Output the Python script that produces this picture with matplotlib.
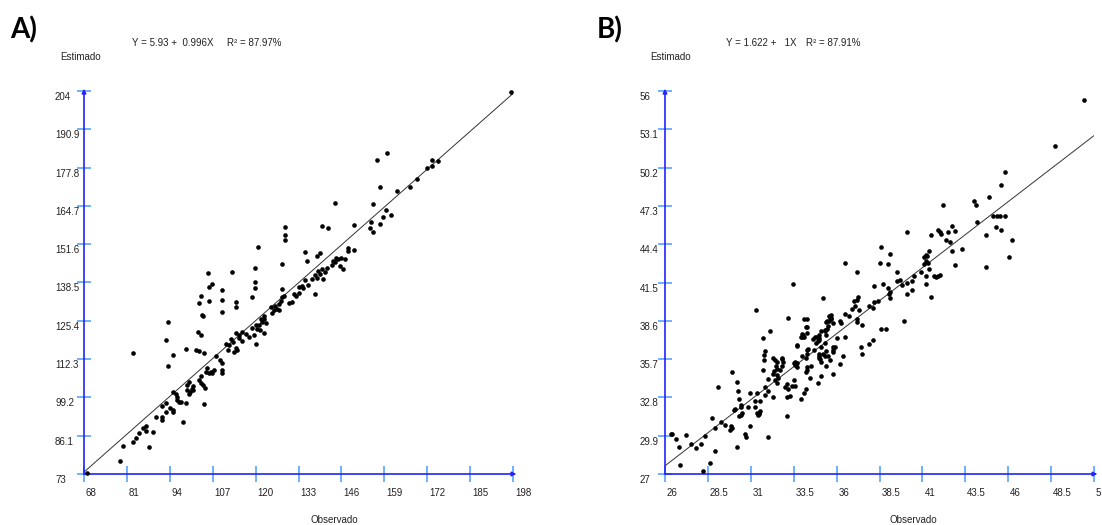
# two observed vs estimated scatter panels with the fitted line,
# drawn in the look of the old stats program (blue arrow axes)

import matplotlib
matplotlib.use("Agg")
import matplotlib.pyplot as plt
from matplotlib.transforms import offset_copy

FIG_W_PX = 1102
FIG_H_PX = 525
DPI = 100

AXIS_BLUE = '#2222ff'
TICK_BLUE = '#4a9bff'
TEXT_FONT = ['Liberation Sans', 'DejaVu Sans']

# ---- panel A data ----
A_OBS = [68.8, 78.9, 79.9, 82.7, 82.7, 83.8, 84.8, 85.8, 86.8, 86.8, 87.8, 88.8,
         89.8, 91.5, 91.5, 91.5, 92.8, 92.8, 92.8, 93.6, 93.6, 94.0, 94.9, 94.9,
         94.9, 94.9, 95.9, 96.3, 96.3, 96.8, 97.3, 97.9, 98.9, 98.9, 99.2, 99.2,
         99.8, 99.8, 100.2, 100.6, 101.1, 101.1, 102.0, 102.9, 102.6, 103.6, 102.7,
         103.6, 103.9, 104.2, 104.4, 104.4, 105.7, 106.0, 106.0, 106.8, 102.7, 103.6,
         103.6, 104.2, 104.6, 104.9, 105.4, 105.9, 106.4, 106.9, 107.4, 108.0, 109.2,
         109.8, 109.8, 109.8, 109.8, 109.8, 109.8, 111.0, 111.5, 112.0, 112.5, 113.0,
         113.5, 114.0, 114.5, 115.0, 115.0, 116.0, 112.7, 114.2, 114.2, 114.2, 116.0,
         117.0, 118.0, 118.8, 119.0, 119.5, 120.0, 120.0, 120.5, 121.0, 121.2, 121.5,
         122.0, 122.4, 122.4, 122.6, 123.0, 119.8, 119.8, 119.8, 120.6, 124.6, 125.0,
         125.6, 126.0, 126.6, 127.0, 127.2, 127.8, 128.0, 128.5, 128.0, 127.9, 128.9,
         128.9, 128.9, 130.0, 131.0, 131.5, 132.2, 133.0, 133.3, 134.0, 134.5, 135.0,
         135.0, 135.7, 138.0, 136.0, 137.0, 138.0, 138.5, 139.0, 139.5, 140.0, 140.5,
         141.0, 141.5, 138.5, 139.5, 140.0, 142.0, 143.0, 143.5, 144.0, 144.5, 145.0,
         145.5, 146.0, 146.5, 144.1, 147.0, 148.1, 148.1, 149.8, 149.8, 154.7, 155.0,
         155.7, 157.7, 155.7, 156.7, 159.9, 157.7, 158.6, 159.5, 160.9, 162.9, 166.8,
         169.0, 171.8, 173.5, 173.5, 175.4, 197.3]
A_EST = [73.2, 77.4, 82.7, 114.3, 84.1, 85.2, 86.9, 88.8, 89.4, 87.8, 82.1, 87.5,
         92.6, 91.5, 92.6, 96.3, 97.2, 94.3, 118.8, 125.1, 109.9, 95.6, 95.0, 94.3,
         101.1, 113.7, 100.5, 99.4, 98.3, 97.6, 97.6, 90.9, 97.2, 115.6, 101.6, 103.4,
         104.6, 100.5, 101.0, 102.0, 103.2, 101.6, 115.4, 115.2, 121.7, 120.5, 131.6,
         133.9, 127.4, 127.0, 114.5, 96.8, 141.6, 137.0, 132.3, 138.0, 105.3, 106.4,
         104.2, 103.6, 102.5, 108.0, 109.1, 107.4, 108.0, 107.7, 108.6, 113.4, 112.0,
         110.9, 108.6, 107.5, 136.0, 132.5, 128.5, 117.5, 115.3, 117.0, 119.1, 118.0,
         114.8, 116.0, 115.4, 120.6, 119.5, 118.4, 142.0, 132.0, 130.0, 121.1, 121.6,
         121.0, 119.9, 133.6, 123.0, 120.7, 124.1, 117.5, 122.6, 124.0, 122.2, 126.1,
         125.0, 127.2, 121.2, 125.9, 124.8, 143.3, 138.8, 136.5, 150.5, 130.0, 128.0,
         129.0, 130.5, 129.5, 129.0, 131.0, 132.1, 133.5, 134.0, 136.3, 144.8, 157.6,
         154.8, 153.0, 131.5, 132.0, 134.5, 133.8, 136.8, 135.0, 137.3, 136.5, 139.5,
         148.8, 146.0, 134.5, 137.6, 139.8, 141.2, 140.0, 142.5, 141.5, 143.0, 139.8,
         142.2, 143.5, 147.6, 148.5, 157.8, 157.0, 144.5, 146.0, 145.5, 147.0, 146.5,
         144.3, 146.8, 143.0, 165.6, 146.5, 150.3, 149.3, 149.6, 158.0, 157.0, 159.3,
         155.8, 158.5, 165.4, 180.4, 182.7, 171.3, 161.0, 163.3, 161.5, 169.9, 171.0,
         173.8, 177.6, 178.5, 180.4, 180.0, 203.6]
A_XTICKS = [68, 81, 94, 107, 120, 133, 146, 159, 172, 185, 198]
A_YTICKS = [73, 86.1, 99.2, 112.3, 125.4, 138.5, 151.6, 164.7, 177.8, 190.9, 204]
A_FIT = (5.93, 0.996)
A_EQ = "Y = 5.93 +  0.996X"
A_R2 = "R² = 87.97%"

# ---- panel B data ----
B_OBS = [26.35, 26.40, 26.64, 26.84, 26.90, 27.20, 27.50, 27.80, 28.08, 28.23, 28.33,
         28.60, 28.72, 28.90, 28.91, 29.10, 29.25, 29.50, 29.80, 29.85, 29.90, 29.90,
         30.05, 30.10, 30.20, 30.20, 30.25, 30.30, 30.40, 30.45, 30.30, 30.40, 30.50,
         30.68, 30.70, 30.85, 30.97, 30.97, 31.24, 31.24, 31.30, 31.35, 31.40, 31.45,
         31.50, 31.55, 31.35, 31.55, 31.70, 31.75, 31.75, 31.85, 31.70, 31.80, 32.00,
         32.00, 31.80, 32.00, 32.10, 32.30, 32.35, 32.30, 32.40, 32.50, 32.50, 32.60,
         32.30, 32.40, 32.45, 32.50, 32.55, 32.80, 32.80, 32.70, 33.00, 33.10, 33.15,
         33.10, 33.30, 33.40, 33.50, 33.55, 33.10, 33.15, 33.48, 33.60, 33.70, 33.70,
         33.90, 34.10, 34.20, 34.00, 34.05, 34.10, 34.25, 34.30, 34.25, 34.20, 34.30,
         34.50, 34.45, 34.30, 34.35, 34.80, 34.90, 34.95, 35.00, 35.10, 35.00, 34.95,
         35.20, 35.30, 35.30, 35.30, 35.40, 35.45, 35.45, 35.40, 35.70, 35.70, 35.80,
         35.80, 35.90, 35.80, 35.40, 35.10, 34.90, 35.19, 32.80, 32.85, 33.50, 33.60,
         33.70, 33.70, 33.90, 34.00, 34.20, 34.10, 34.00, 34.20, 34.30, 34.30, 34.60,
         34.75, 34.85, 35.00, 35.10, 35.30, 35.50, 35.55, 34.70, 34.95, 35.05, 35.10,
         35.40, 35.50, 35.60, 35.80, 35.80, 36.00, 36.20, 36.40, 36.50, 35.55, 35.60,
         35.70, 36.20, 36.25, 36.50, 36.70, 36.90, 37.10, 37.25, 37.00, 37.20, 37.30,
         37.20, 37.20, 37.50, 36.49, 37.20, 37.40, 37.50, 37.90, 38.10, 37.90, 38.20,
         38.15, 38.40, 38.20, 38.57, 38.50, 39.00, 39.10, 38.70, 38.57, 38.90, 39.00,
         39.10, 39.10, 39.05, 39.50, 39.50, 39.70, 39.80, 40.10, 40.40, 40.40, 40.10,
         40.08, 39.90, 41.10, 41.10, 41.20, 41.30, 41.25, 41.40, 41.20, 41.20, 41.20,
         41.50, 41.50, 42.00, 41.90, 42.00, 42.18, 42.40, 42.50, 42.70, 42.90, 42.70,
         43.30, 42.90, 44.00, 44.10, 44.20, 50.42, 48.70, 45.80, 45.60, 44.90, 45.10,
         45.35, 45.50, 45.80, 45.30, 45.60, 44.70, 46.20, 46.07, 44.70, 41.90, 42.10,
         42.60, 41.40, 40.90, 41.70, 41.80, 40.50]
B_EST = [30.00, 30.05, 29.65, 29.07, 27.70, 29.95, 29.27, 29.00, 29.30, 27.20, 29.88,
         27.80, 31.26, 28.74, 30.50, 33.56, 30.94, 30.70, 30.30, 30.60, 30.45, 34.70,
         31.85, 31.90, 29.07, 34.00, 33.30, 32.70, 32.20, 32.10, 31.40, 31.50, 31.60,
         30.00, 29.80, 32.10, 30.60, 33.10, 32.50, 32.05, 39.40, 31.60, 31.50, 31.65,
         31.55, 31.80, 33.10, 32.55, 37.30, 36.00, 35.60, 36.30, 34.90, 33.60, 34.20,
         33.30, 33.00, 29.80, 37.80, 34.60, 34.80, 32.80, 34.10, 33.90, 34.50, 34.30,
         35.80, 35.60, 35.20, 34.95, 35.50, 35.70, 35.15, 34.90, 33.60, 33.80, 33.40,
         32.80, 32.90, 33.70, 34.10, 33.70, 31.40, 38.80, 41.40, 35.50, 35.40, 36.70,
         32.70, 33.10, 33.40, 37.40, 37.55, 37.40, 37.70, 38.10, 38.70, 34.70, 34.85,
         35.20, 34.30, 36.40, 36.50, 36.90, 37.10, 37.15, 37.30, 36.60, 36.10, 35.80,
         36.10, 35.95, 36.90, 37.80, 38.50, 38.60, 38.00, 37.50, 39.04, 38.80, 38.40,
         36.60, 36.60, 34.60, 35.20, 34.40, 33.90, 40.30, 35.76, 35.50, 35.40, 35.25,
         35.10, 36.80, 37.40, 37.60, 38.10, 38.70, 35.90, 35.80, 36.10, 35.10, 37.20,
         37.40, 37.40, 37.50, 37.80, 37.90, 38.20, 38.60, 36.40, 35.90, 35.70, 35.50,
         36.30, 35.90, 35.60, 36.20, 36.40, 37.30, 35.30, 35.90, 37.40, 39.00, 38.90,
         38.70, 38.60, 38.40, 39.10, 39.00, 39.50, 39.70, 40.40, 40.10, 40.20, 39.40,
         38.70, 38.50, 38.30, 43.00, 42.30, 36.60, 36.06, 36.84, 37.14, 39.70, 40.00,
         39.60, 40.10, 41.20, 44.20, 43.00, 42.90, 43.65, 41.40, 38.00, 37.95, 41.10,
         40.80, 40.30, 40.60, 42.30, 41.60, 41.70, 41.30, 41.50, 41.60, 40.90, 40.60,
         45.30, 38.60, 43.40, 42.90, 43.10, 43.00, 43.50, 43.90, 43.60, 42.00, 41.40,
         40.40, 45.10, 45.30, 42.00, 42.10, 47.40, 44.70, 45.30, 45.80, 45.40, 43.90,
         44.00, 42.80, 47.70, 47.40, 46.10, 55.30, 51.80, 49.90, 48.90, 48.00, 46.50,
         46.50, 46.50, 46.55, 45.70, 45.50, 45.10, 44.70, 43.40, 42.70, 45.50, 45.20,
         44.60, 42.50, 42.30, 42.00, 41.90, 42.00]
B_XTICKS = [26, 28.5, 31, 33.5, 36, 38.5, 41, 43.5, 46, 48.5, 51]
B_XLABELS = ["26", "28.5", "31", "33.5", "36", "38.5", "41", "43.5", "46", "48.5", "5"]
B_YTICKS = [27, 29.9, 32.8, 35.7, 38.6, 41.5, 44.4, 47.3, 50.2, 53.1, 56]
B_FIT = (1.622, 1.0)
B_EQ = "Y = 1.622 +   1X"
B_R2 = "R² = 87.91%"


def px_rect(left, right, top, bottom):
    # figure pixel box -> axes rect in figure fractions
    return [left / FIG_W_PX, 1 - bottom / FIG_H_PX,
            (right - left) / FIG_W_PX, (bottom - top) / FIG_H_PX]


def fmt(v):
    return ("%g" % v)


def draw_panel(fig, rect, obs, est, xticks, yticks, fit, xlabels=None, ylab_dx=-29):
    ax = fig.add_axes(rect)
    x0, x1 = xticks[0], xticks[-1]
    y0, y1 = yticks[0], yticks[-1]
    ax.set_xlim(x0, x1)
    ax.set_ylim(y0, y1)
    for s in ax.spines.values():
        s.set_visible(False)

    ax.set_xticks(xticks)
    ax.set_yticks(yticks)
    ax.tick_params(axis='x', direction='inout', length=11.5, width=1.1,
                   color=TICK_BLUE, labelbottom=False)
    ax.tick_params(axis='y', direction='inout', length=9.5, width=1.1,
                   color=TICK_BLUE, labelleft=False)

    # blue axes with small arrow heads
    xspan = x1 - x0
    yspan = y1 - y0
    ax.annotate('', xy=(x1 + xspan * 0.008, y0), xytext=(x0, y0),
                arrowprops=dict(arrowstyle='-|>', color=AXIS_BLUE, lw=1.2,
                                mutation_scale=6, shrinkA=0, shrinkB=0),
                annotation_clip=False)
    ax.annotate('', xy=(x0, y1 + yspan * 0.006), xytext=(x0, y0),
                arrowprops=dict(arrowstyle='-|>', color=AXIS_BLUE, lw=1.2,
                                mutation_scale=6, shrinkA=0, shrinkB=0),
                annotation_clip=False)

    # tick labels, offset like the original program
    xl_tr = offset_copy(ax.transData, fig=fig, x=2, y=-19, units='dots')
    if xlabels is None:
        xlabels = [fmt(v) for v in xticks]
    for v, lab in zip(xticks, xlabels):
        ax.text(v, y0, lab, transform=xl_tr, ha='left', va='center',
                fontsize=7, family=TEXT_FONT, color='#222222')
    yl_tr = offset_copy(ax.transData, fig=fig, x=ylab_dx, y=-6, units='dots')
    for v in yticks:
        ax.text(x0, v, fmt(v), transform=yl_tr, ha='left', va='center',
                fontsize=7, family=TEXT_FONT, color='#222222')

    # fitted line
    a, b = fit
    ax.plot([x0, x1], [a + b * x0, a + b * x1], color='#333333', lw=0.7, zorder=2)

    ax.scatter(obs, est, s=11, color='black', marker='o', linewidths=0,
               zorder=3, clip_on=False)
    return ax


if __name__ == '__main__':
    fig = plt.figure(figsize=(FIG_W_PX / DPI, FIG_H_PX / DPI), dpi=DPI)

    draw_panel(fig, px_rect(84, 513, 91, 474), A_OBS, A_EST, A_XTICKS, A_YTICKS,
               A_FIT, ylab_dx=-29)
    draw_panel(fig, px_rect(665, 1094, 91, 474), B_OBS, B_EST, B_XTICKS, B_YTICKS,
               B_FIT, xlabels=B_XLABELS, ylab_dx=-25)

    def ftext(px, py, s, **kw):
        fig.text(px / FIG_W_PX, 1 - py / FIG_H_PX, s, **kw)

    small = dict(fontsize=7, family=TEXT_FONT, color='#222222', va='center')

    # panel A labels
    ftext(10, 30, "A)", fontsize=20, fontweight='bold', family=['Lato', 'DejaVu Sans'],
          va='center', ha='left')
    ftext(132, 43, A_EQ, ha='left', **small)
    ftext(227, 43, A_R2, ha='left', **small)
    ftext(60, 57, "Estimado", ha='left', **small)
    ftext(334, 520, "Observado", ha='center', **small)

    # panel B labels
    ftext(597, 30, "B)", fontsize=20, fontweight='bold', family=['Lato', 'DejaVu Sans'],
          va='center', ha='left')
    ftext(726, 43, B_EQ, ha='left', **small)
    ftext(806, 43, B_R2, ha='left', **small)
    ftext(650, 57, "Estimado", ha='left', **small)
    ftext(913, 520, "Observado", ha='center', **small)

    fig.savefig("out.png", dpi=DPI, facecolor='white')
